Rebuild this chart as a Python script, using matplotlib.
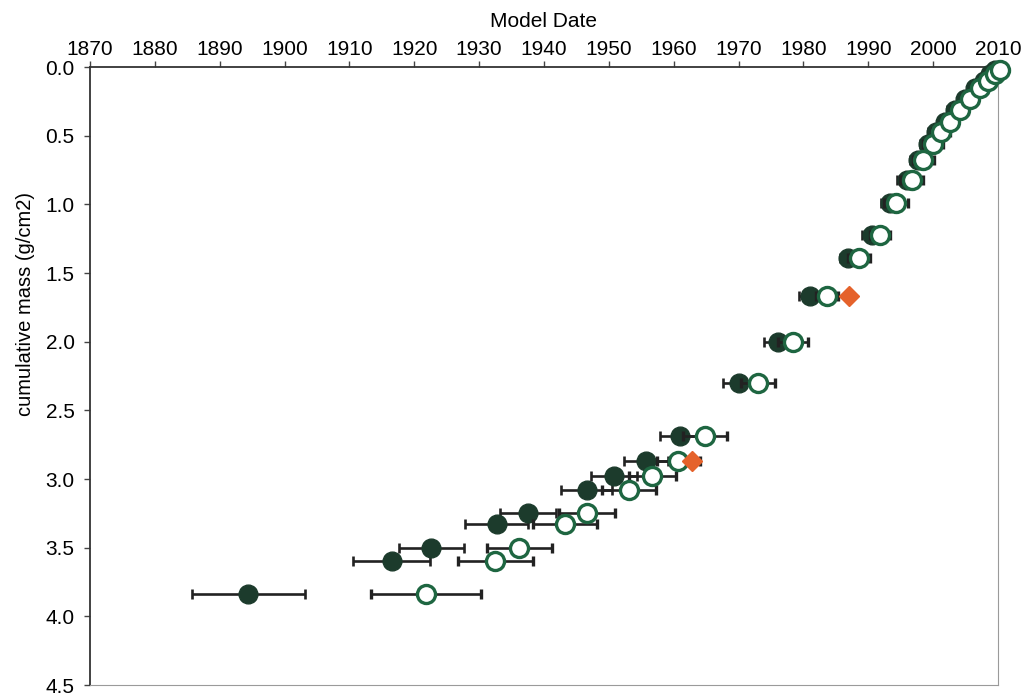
import matplotlib.pyplot as plt
import numpy as np

# cumulative mass (g/cm2) of each sample layer
mass = [3.84, 3.60, 3.50, 3.33, 3.25, 3.08, 2.98, 2.87, 2.69, 2.30, 2.00, 1.67, 1.39,
        1.22, 0.99, 0.82, 0.68, 0.56, 0.47, 0.40, 0.31, 0.23, 0.15, 0.10, 0.05, 0.02]

# model dates, filled series
date_filled = [1894.4, 1916.5, 1922.6, 1932.7, 1937.5, 1946.6, 1950.8, 1955.7, 1961.0,
               1970.1, 1976.1, 1981.0, 1986.9, 1990.5, 1993.3, 1995.9, 1997.7, 1999.2,
               2000.4, 2001.8, 2003.3, 2004.9, 2006.4, 2007.8, 2008.8, 2009.6]
err_filled = [8.7, 5.9, 5.0, 4.9, 4.3, 3.9, 3.6, 3.4, 3.1, 2.5, 2.2, 1.7, 1.3,
              1.5, 1.4, 1.4, 1.3, 1.2, 1.2, 1.1, 1.1, 1.0, 1.0, 0.9, 0.9, 0.8]

# model dates, open series
date_open = [1921.8, 1932.5, 1936.2, 1943.2, 1946.6, 1953.1, 1956.7, 1960.7, 1964.8,
             1973.0, 1978.4, 1983.6, 1988.6, 1991.8, 1994.3, 1996.7, 1998.5, 2000.0,
             2001.2, 2002.6, 2004.1, 2005.7, 2007.2, 2008.5, 2009.5, 2010.3]
err_open = [8.5, 5.8, 5.0, 4.9, 4.3, 4.1, 3.6, 3.3, 3.4, 2.6, 2.3, 1.7, 1.7,
            1.6, 1.9, 1.8, 1.6, 1.5, 1.4, 1.3, 1.3, 1.2, 1.1, 1.0, 1.0, 0.9]

# independent markers (diamonds)
date_marker = [1962.8, 1987.1]
mass_marker = [2.87, 1.67]

plt.rcParams['font.family'] = ['Liberation Sans', 'DejaVu Sans']

fig = plt.figure(figsize=(10.26, 6.98), dpi=100)
ax = fig.add_axes([0.0877, 0.0186, 0.885, 0.8854])

dark = '#1c3b2c'
green = '#1e6641'
errc = '#222222'

ax.errorbar(date_filled, mass, xerr=err_filled, fmt='o', ms=13.5, mfc=dark, mec=dark,
            ecolor=errc, elinewidth=1.9, capsize=3.8, capthick=1.9, zorder=3, clip_on=False)
ax.errorbar(date_open, mass, xerr=err_open, fmt='o', ms=13, mfc='white', mec=green, mew=2.4,
            ecolor=errc, elinewidth=1.9, capsize=3.8, capthick=1.9, zorder=4, clip_on=False)
ax.plot(date_marker, mass_marker, 'D', ms=10.5, color='#e5622b', zorder=5, clip_on=False)

ax.set_xlim(1870, 2010)
ax.set_ylim(4.5, 0.0)
ax.set_xticks(np.arange(1870, 2011, 10))
ax.set_yticks(np.arange(0, 4.51, 0.5))
ax.yaxis.set_major_formatter(plt.FormatStrFormatter('%.1f'))

ax.xaxis.tick_top()
ax.xaxis.set_label_position('top')
ax.set_xlabel('Model Date', fontsize=15, labelpad=9)
ax.set_ylabel('cumulative mass (g/cm2)', fontsize=14.5)
ax.yaxis.set_label_coords(-0.060, 0.616)

ax.tick_params(axis='both', labelsize=15, direction='out', length=4, width=1, color='#444444')
ax.tick_params(axis='x', pad=2)
ax.tick_params(axis='y', pad=7)

for s in ['top', 'left']:
    ax.spines[s].set_color('#333333')
    ax.spines[s].set_linewidth(1.3)
for s in ['right', 'bottom']:
    ax.spines[s].set_color('#9a9a9a')
    ax.spines[s].set_linewidth(0.8)

fig.savefig('out.png', dpi=100)
